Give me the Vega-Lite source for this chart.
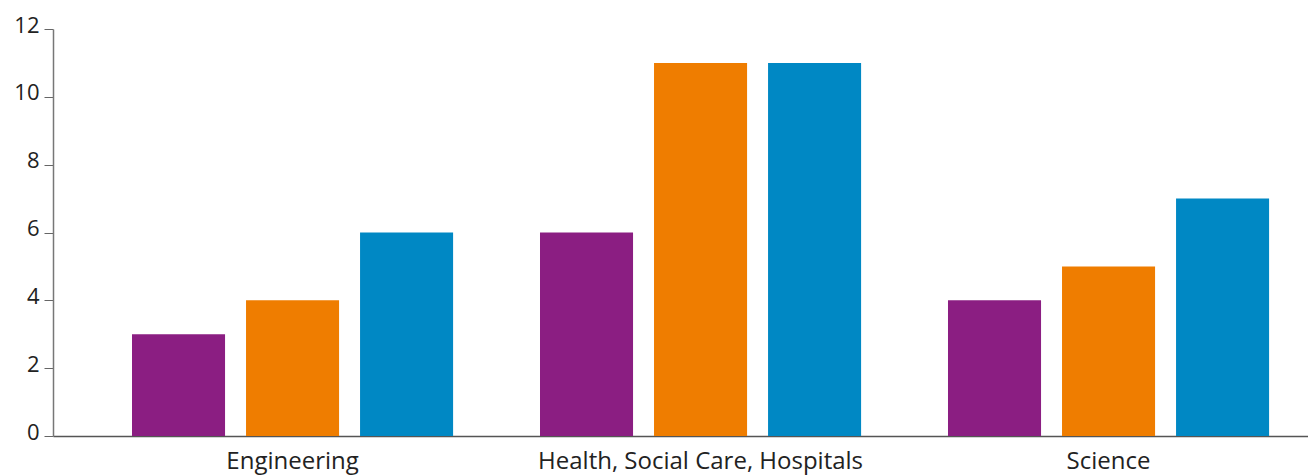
{
  "$schema": "https://vega.github.io/schema/vega-lite/v6.json",
  "autosize": {"type": "none"},
  "width": 1255,
  "height": 407,
  "padding": {"left": 53, "top": 29, "right": 0, "bottom": 39},
  "background": "white",
  "config": {"view": {"stroke": null}},
  "data": {
    "values": [
      {"category": "Engineering", "series": "Series 1", "value": 3},
      {"category": "Engineering", "series": "Series 2", "value": 4},
      {"category": "Engineering", "series": "Series 3", "value": 6},
      {"category": "Health, Social Care, Hospitals", "series": "Series 1", "value": 6},
      {"category": "Health, Social Care, Hospitals", "series": "Series 2", "value": 11},
      {"category": "Health, Social Care, Hospitals", "series": "Series 3", "value": 11},
      {"category": "Science", "series": "Series 1", "value": 4},
      {"category": "Science", "series": "Series 2", "value": 5},
      {"category": "Science", "series": "Series 3", "value": 7}
    ]
  },
  "mark": {"type": "bar"},
  "encoding": {
    "x": {
      "field": "category",
      "type": "nominal",
      "sort": null,
      "scale": {"paddingInner": 0.213, "paddingOuter": 0.1445, "align": 0.67},
      "axis": {
        "title": null,
        "labelAngle": 0,
        "ticks": false,
        "labelLimit": 0,
        "labelFont": "Open Sans",
        "labelFontSize": 24,
        "labelColor": "#222222",
        "labelPadding": 13,
        "domainColor": "#555555",
        "domainWidth": 1.5
      }
    },
    "xOffset": {
      "field": "series",
      "type": "nominal",
      "scale": {"paddingInner": 0.184, "paddingOuter": 0}
    },
    "y": {
      "field": "value",
      "type": "quantitative",
      "scale": {"domain": [0, 12], "nice": false},
      "axis": {
        "title": null,
        "values": [0, 2, 4, 6, 8, 10, 12],
        "grid": false,
        "tickSize": 9,
        "tickColor": "#666666",
        "domainColor": "#777777",
        "domainWidth": 1.5,
        "labelFont": "Open Sans",
        "labelFontSize": 22,
        "labelColor": "#222222",
        "labelPadding": 5,
        "labelBaseline": "middle",
        "labelOffset": -4
      }
    },
    "color": {
      "field": "series",
      "type": "nominal",
      "scale": {"range": ["#8B1E82", "#EF7D00", "#0088C4"]},
      "legend": null
    }
  }
}
